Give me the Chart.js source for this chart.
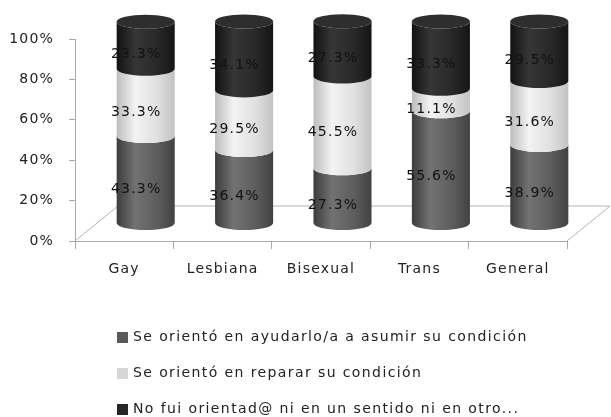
<!DOCTYPE html>
<html>
<head>
<meta charset="utf-8">
<script src="https://cdn.jsdelivr.net/npm/chart.js@4.4.0/dist/chart.umd.min.js"></script>
<style>
  html, body { margin: 0; padding: 0; background: #fff; }
</style>
</head>
<body>
<canvas id="chart" width="611" height="417"></canvas>
<script>
// categories and stacked percentages (each column sums to ~100%)
const categories = ['Gay', 'Lesbiana', 'Bisexual', 'Trans', 'General'];
const ayudarlo = [43.3, 36.4, 27.3, 55.6, 38.9];
const reparar = [33.3, 29.5, 45.5, 11.1, 31.6];
const noOrientado = [23.3, 34.1, 27.3, 33.3, 29.5];
const seriesNames = [
    'Se orientó en ayudarlo/a a asumir su condición',
    'Se orientó en reparar su condición',
    'No fui orientad@ ni en un sentido ni en otro...'
];
const yTicks = [0, 20, 40, 60, 80, 100];

// depth of the fake 3D floor
const DX = 43;
const DY = 35;
const RY = 7;
const FONT = { family: 'DejaVu Sans', size: 14 };

// left edge -> highlight -> right edge shading for each series
const shades = [
    ['#3c3c3c', '#727272', '#5d5d5d', '#414141'],
    ['#bdbdbd', '#f3f3f3', '#e0e0e0', '#c2c2c2'],
    ['#121212', '#363636', '#282828', '#151515']
];
const capShades = ['#6a6a6a', '#f6f6f6', '#2e2e2e'];

function cylinderGradient(ctx, left, right, stops) {
    const g = ctx.createLinearGradient(left, 0, right, 0);
    g.addColorStop(0, stops[0]);
    g.addColorStop(0.32, stops[1]);
    g.addColorStop(0.7, stops[2]);
    g.addColorStop(1, stops[3]);
    return g;
}

const cylinders = {
    id: 'cylinders',
    beforeDraw(chart) {
        chart.ctx.letterSpacing = '1.2px';
    },
    beforeDatasetsDraw(chart) {
        const { ctx, chartArea: a } = chart;

        // floor outline (front edge is the x axis border)
        ctx.save();
        ctx.strokeStyle = '#b4b4b4';
        ctx.lineWidth = 1;
        ctx.beginPath();
        ctx.moveTo(a.left, a.bottom);
        ctx.lineTo(a.left + DX, a.bottom - DY);
        ctx.lineTo(a.right + DX, a.bottom - DY);
        ctx.lineTo(a.right, a.bottom);
        ctx.stroke();

        const last = chart.data.datasets.length - 1;
        chart.data.labels.forEach((_, i) => {
            chart.data.datasets.forEach((ds, d) => {
                const bar = chart.getDatasetMeta(d).data[i];
                const { x, y, base, width } = bar.getProps(['x', 'y', 'base', 'width'], true);
                const cx = x + DX / 2;
                const rx = width / 2;
                const yTop = y - DY / 2;
                const yBot = base - DY / 2;

                ctx.fillStyle = cylinderGradient(ctx, cx - rx, cx + rx, shades[d]);
                ctx.beginPath();
                ctx.moveTo(cx - rx, yTop);
                ctx.lineTo(cx - rx, yBot);
                ctx.ellipse(cx, yBot, rx, RY, 0, Math.PI, 0, true);
                ctx.lineTo(cx + rx, yTop);
                ctx.ellipse(cx, yTop, rx, RY, 0, 0, Math.PI, false);
                ctx.closePath();
                ctx.fill();

                if (d === last) {
                    ctx.fillStyle = capShades[d];
                    ctx.beginPath();
                    ctx.ellipse(cx, yTop, rx, RY, 0, 0, Math.PI * 2);
                    ctx.fill();
                }
            });
        });
        ctx.restore();
        // cylinders replace the flat bars
        return false;
    },
    afterDraw(chart) {
        const { ctx } = chart;
        ctx.save();
        ctx.letterSpacing = '1.2px';

        // value labels on each segment
        ctx.font = `${FONT.size}px ${FONT.family}`;
        ctx.fillStyle = '#111';
        ctx.textAlign = 'center';
        ctx.textBaseline = 'middle';
        chart.data.datasets.forEach((ds, d) => {
            chart.getDatasetMeta(d).data.forEach((bar, i) => {
                const { x, y, base } = bar.getProps(['x', 'y', 'base'], true);
                ctx.fillText(ds.data[i].toFixed(1) + '%', x + 12, (y + base) / 2 - 8);
            });
        });

        // legend stacked vertically under the axis
        const rows = [337, 373, 409];
        ctx.letterSpacing = '1.4px';
        ctx.font = `14px ${FONT.family}`;
        ctx.textAlign = 'left';
        chart.data.datasets.forEach((ds, d) => {
            ctx.fillStyle = ds.backgroundColor;
            ctx.fillRect(117, rows[d] - 5, 11, 11);
            ctx.fillStyle = '#222';
            ctx.fillText(ds.label, 133, rows[d]);
        });
        ctx.restore();
    }
};

new Chart(document.getElementById('chart'), {
    type: 'bar',
    data: {
        labels: categories,
        datasets: [
            { label: seriesNames[0], data: ayudarlo, backgroundColor: '#5a5a5a' },
            { label: seriesNames[1], data: reparar, backgroundColor: '#d6d6d6' },
            { label: seriesNames[2], data: noOrientado, backgroundColor: '#262626' }
        ]
    },
    options: {
        responsive: false,
        animation: false,
        devicePixelRatio: 1,
        layout: { padding: { top: 39, right: 44, left: 0, bottom: 0 } },
        datasets: { bar: { categoryPercentage: 1, barPercentage: 0.59 } },
        plugins: {
            legend: { display: false },
            tooltip: { enabled: false }
        },
        scales: {
            x: {
                stacked: true,
                afterFit(s) { s.height = 176; },
                grid: { drawOnChartArea: false, drawTicks: true, tickLength: 8, color: '#a8a8a8', offset: true },
                border: { color: '#a8a8a8' },
                ticks: { color: '#222', font: FONT, padding: 12 }
            },
            y: {
                stacked: true,
                min: 0,
                max: 100,
                afterFit(s) { s.width = 75; },
                afterBuildTicks(s) { s.ticks = yTicks.map(v => ({ value: v })); },
                grid: { drawOnChartArea: false, tickLength: 6, color: '#a8a8a8' },
                border: { color: '#a8a8a8' },
                ticks: { color: '#222', font: FONT, padding: 15, callback: v => v + '%' }
            }
        }
    },
    plugins: [cylinders]
});
</script>
</body>
</html>
